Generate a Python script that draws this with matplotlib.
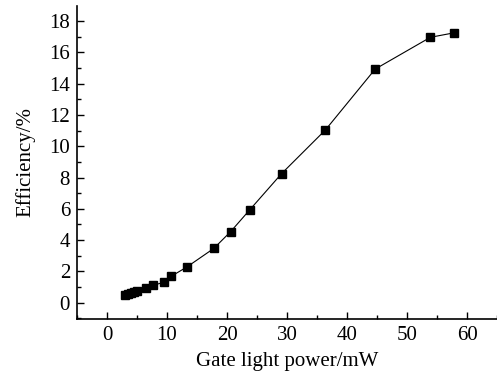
import matplotlib
matplotlib.use("Agg")
import matplotlib.pyplot as plt
from matplotlib.ticker import MultipleLocator

power_mw = [3.0, 3.5, 4.0, 4.5, 5.05, 6.55, 7.6, 9.45, 10.7, 13.3, 17.8, 20.6, 23.8, 29.1, 36.4, 44.7, 53.9, 57.9]
efficiency = [0.52, 0.56, 0.62, 0.68, 0.77, 0.92, 1.11, 1.30, 1.69, 2.28, 3.47, 4.54, 5.94, 8.25, 11.04, 14.93, 16.96, 17.25]
x_ticks = [0, 10, 20, 30, 40, 50, 60]
y_ticks = [0, 2, 4, 6, 8, 10, 12, 14, 16, 18]

plt.rcParams['font.family'] = ['Liberation Serif', 'DejaVu Serif']
fig = plt.figure(figsize=(4.97, 3.82), dpi=100)
ax = fig.add_axes([77/497, (382-318.7)/382, 1-77/497, (318.7-6)/382])
ax.plot(power_mw, efficiency, color='black', lw=0.8, marker='s', ms=5.5, mfc='black', mec='black')
ax.set_xlim(-5, 65)
ax.set_ylim(-1.02, 18.96)
ax.set_xticks(x_ticks)
ax.set_yticks(y_ticks)
ax.xaxis.set_minor_locator(MultipleLocator(5))
ax.yaxis.set_minor_locator(MultipleLocator(1))
for s in ['top', 'right']:
    ax.spines[s].set_visible(False)
for s in ['left', 'bottom']:
    ax.spines[s].set_linewidth(1.2)
ax.tick_params(which='major', direction='in', length=5, width=1, labelsize=15, pad=5)
ax.tick_params(which='minor', direction='in', length=3, width=1)
ax.set_xlabel('Gate light power/mW', fontsize=15, labelpad=5)
ax.set_ylabel('Efficiency/%', fontsize=15, labelpad=10)
fig.savefig('out.png', dpi=100)
